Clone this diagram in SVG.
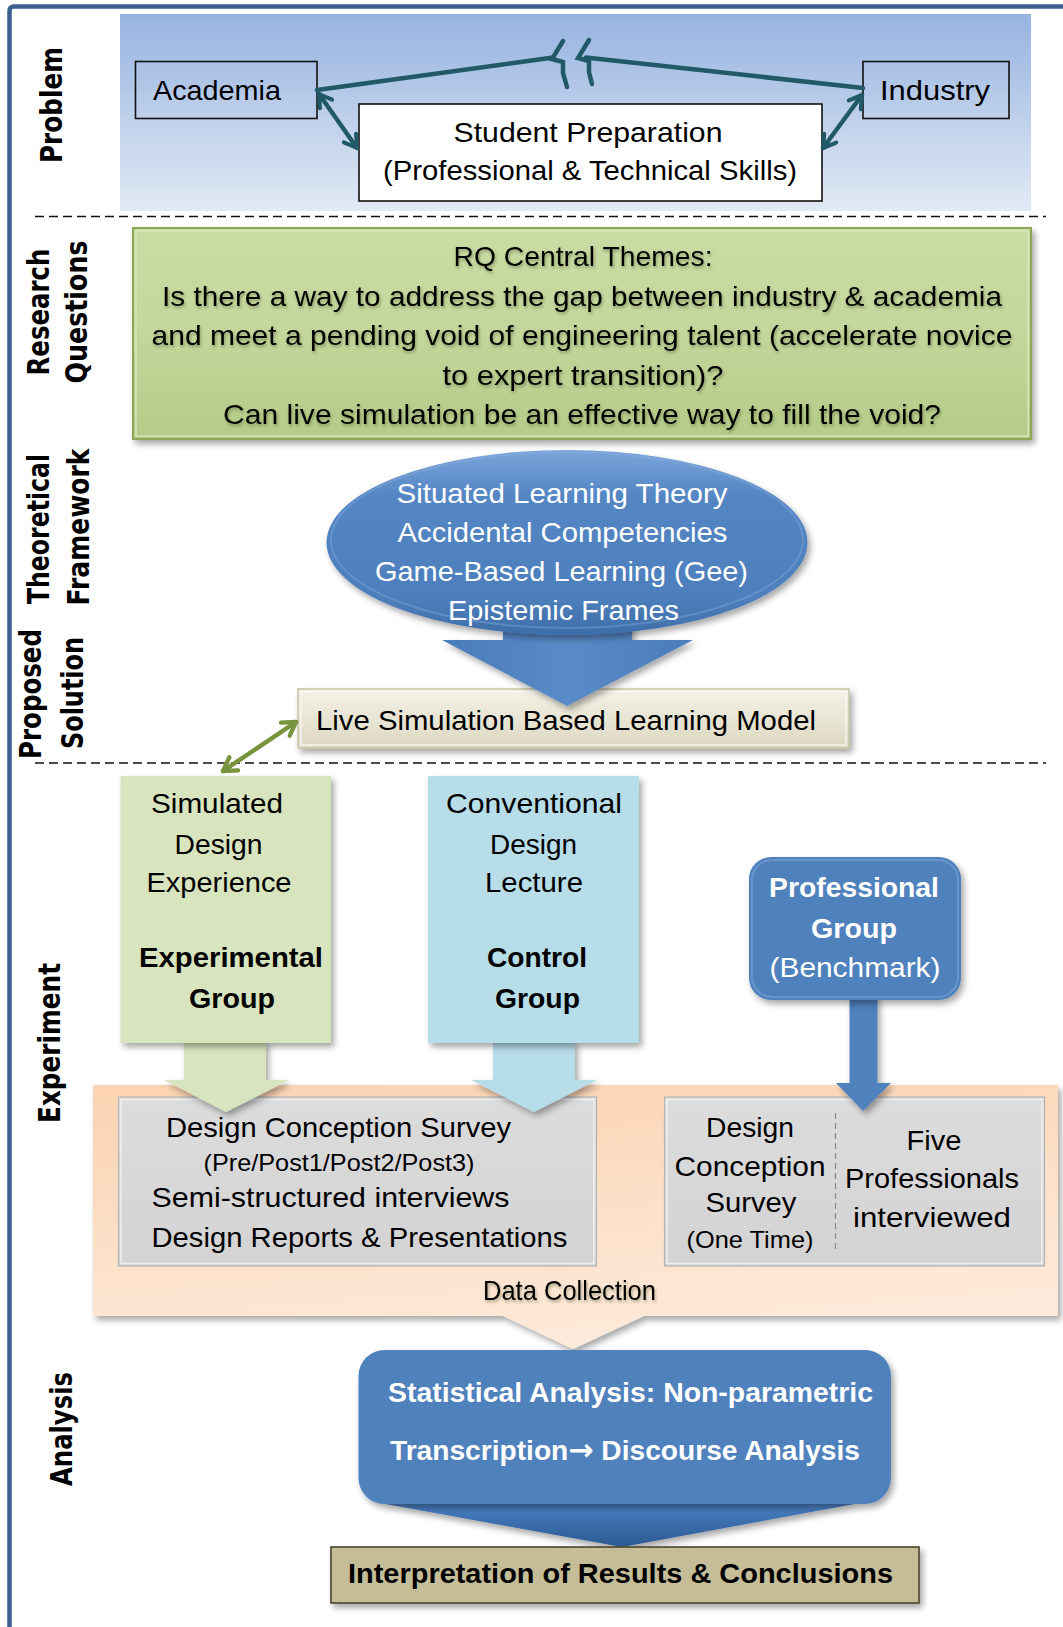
<svg xmlns="http://www.w3.org/2000/svg" width="1063" height="1627" viewBox="0 0 1063 1627">
  <style>
    .lbl { font-family: "DejaVu Sans", "Liberation Sans", sans-serif; font-weight: bold; font-size: 30px; fill: #000; text-anchor: middle; }
    .t { font-family: "Liberation Sans", Arial, sans-serif; text-anchor: middle; fill: #000; font-size: 28px; }
    .tb { font-weight: bold; }
    .w { fill: #fff; }
    .sm { font-size: 24px; }
    .dash { stroke: #111; stroke-width: 1.6; stroke-dasharray: 9 5; fill: none; }
    .teal { stroke: #215968; stroke-width: 4.5; fill: none; stroke-linecap: round; stroke-linejoin: miter; }
  </style>
  <defs>
    <linearGradient id="gProblem" x1="0" y1="0" x2="0" y2="1">
      <stop offset="0" stop-color="#96b3e0"/>
      <stop offset="1" stop-color="#e2eaf5"/>
    </linearGradient>
    <linearGradient id="gRQ" x1="0" y1="0" x2="0" y2="1">
      <stop offset="0" stop-color="#c9dca4"/>
      <stop offset="0.5" stop-color="#c3d69b"/>
      <stop offset="1" stop-color="#b5cb88"/>
    </linearGradient>
    <linearGradient id="gBlueEll" x1="0" y1="0" x2="0" y2="1">
      <stop offset="0" stop-color="#7aa4da"/>
      <stop offset="0.25" stop-color="#5486c4"/>
      <stop offset="0.8" stop-color="#4d7fbc"/>
      <stop offset="1" stop-color="#3f6ea8"/>
    </linearGradient>
    <linearGradient id="gArrowBlue" x1="0" y1="0" x2="1" y2="0">
      <stop offset="0" stop-color="#4a7cba"/>
      <stop offset="0.5" stop-color="#5a8bc8"/>
      <stop offset="1" stop-color="#4a7cba"/>
    </linearGradient>
    <linearGradient id="gLive" x1="0" y1="0" x2="0" y2="1">
      <stop offset="0" stop-color="#f4f2e8"/>
      <stop offset="1" stop-color="#ddd8c1"/>
    </linearGradient>
    <linearGradient id="gPeach" x1="0" y1="0" x2="0.3" y2="1">
      <stop offset="0" stop-color="#fbd3b1"/>
      <stop offset="1" stop-color="#fde9d9"/>
    </linearGradient>
    <linearGradient id="gGrey" x1="0" y1="0" x2="0" y2="1">
      <stop offset="0" stop-color="#dcdcdc"/>
      <stop offset="1" stop-color="#d3d3d3"/>
    </linearGradient>
    <linearGradient id="gChev" x1="0" y1="0" x2="0" y2="1">
      <stop offset="0" stop-color="#4a7fc2"/>
      <stop offset="1" stop-color="#2c5991"/>
    </linearGradient>
    <filter id="sh" x="-10%" y="-10%" width="125%" height="130%">
      <feDropShadow dx="3" dy="4" stdDeviation="3" flood-color="#000" flood-opacity="0.35"/>
    </filter>
    <filter id="tsh" x="-5%" y="-20%" width="110%" height="150%">
      <feDropShadow dx="1" dy="2" stdDeviation="1.5" flood-color="#3a4a20" flood-opacity="0.45"/>
    </filter>
    <marker id="mTeal" viewBox="0 0 14 14" refX="11" refY="7" markerWidth="19" markerHeight="19" markerUnits="userSpaceOnUse" orient="auto-start-reverse">
      <path d="M2,1.5 L11,7 L2,12.5" fill="none" stroke="#215968" stroke-width="3" stroke-linecap="round" stroke-linejoin="round"/>
    </marker>
    <marker id="mGreen" viewBox="0 0 14 14" refX="11" refY="7" markerWidth="20" markerHeight="20" markerUnits="userSpaceOnUse" orient="auto-start-reverse">
      <path d="M2,1.5 L11,7 L2,12.5" fill="none" stroke="#77933c" stroke-width="3" stroke-linecap="round" stroke-linejoin="round"/>
    </marker>
  </defs>

  <rect width="1063" height="1627" fill="#fff"/>
  <!-- page frame -->
  <rect x="9.5" y="6.5" width="1100" height="1700" rx="4" fill="none" stroke="#3b5f8e" stroke-width="4.5"/>

  <!-- row labels -->
  <g id="row-labels">
    <text class="lbl" transform="translate(62,105) rotate(-90)" textLength="116" lengthAdjust="spacingAndGlyphs">Problem</text>
    <text class="lbl" transform="translate(49,312) rotate(-90)" textLength="127" lengthAdjust="spacingAndGlyphs">Research</text>
    <text class="lbl" transform="translate(87,312) rotate(-90)" textLength="143" lengthAdjust="spacingAndGlyphs">Questions</text>
    <text class="lbl" transform="translate(49,529) rotate(-90)" textLength="150" lengthAdjust="spacingAndGlyphs">Theoretical</text>
    <text class="lbl" transform="translate(89,527) rotate(-90)" textLength="157" lengthAdjust="spacingAndGlyphs">Framework</text>
    <text class="lbl" transform="translate(41,694) rotate(-90)" textLength="130" lengthAdjust="spacingAndGlyphs">Proposed</text>
    <text class="lbl" transform="translate(83,693) rotate(-90)" textLength="112" lengthAdjust="spacingAndGlyphs">Solution</text>
    <text class="lbl" transform="translate(60,1043) rotate(-90)" textLength="160" lengthAdjust="spacingAndGlyphs">Experiment</text>
    <text class="lbl" transform="translate(72,1429) rotate(-90)" textLength="114" lengthAdjust="spacingAndGlyphs">Analysis</text>
  </g>

  <!-- section separators -->
  <line class="dash" x1="35" y1="216.5" x2="1046" y2="216.5"/>
  <line class="dash" x1="35" y1="763" x2="1046" y2="763"/>

  <!-- problem band -->
  <rect id="problem-band" x="120" y="14" width="911" height="197" fill="url(#gProblem)"/>

  <g id="academia">
    <rect x="135.5" y="61.5" width="181.5" height="57" fill="none" stroke="#111" stroke-width="1.6"/>
    <text class="t" x="217" y="100" textLength="128" lengthAdjust="spacingAndGlyphs">Academia</text>
  </g>
  <g id="industry">
    <rect x="863" y="61.5" width="146" height="57" fill="none" stroke="#111" stroke-width="1.6"/>
    <text class="t" x="935" y="100" textLength="110" lengthAdjust="spacingAndGlyphs">Industry</text>
  </g>
  <g id="student-preparation">
    <rect x="359" y="104" width="463" height="97" fill="#fff" stroke="#111" stroke-width="1.6"/>
    <text class="t" x="588" y="141.5" textLength="269" lengthAdjust="spacingAndGlyphs">Student Preparation</text>
    <text class="t" x="590" y="180" textLength="414" lengthAdjust="spacingAndGlyphs">(Professional  &amp; Technical Skills)</text>
  </g>

  <!-- research questions -->
  <g id="research-questions">
    <rect x="133" y="228" width="898" height="211" fill="url(#gRQ)" stroke="#8ca857" stroke-width="2" filter="url(#sh)"/>
    <rect x="136" y="231" width="892" height="205" fill="none" stroke="#d7e6bb" stroke-width="1.5"/>
    <g filter="url(#tsh)">
      <text class="t" x="583" y="266" textLength="259" lengthAdjust="spacingAndGlyphs">RQ Central Themes:</text>
      <text class="t" x="582" y="306" textLength="840" lengthAdjust="spacingAndGlyphs">Is there a way to address the gap between industry &amp; academia</text>
      <text class="t" x="582" y="345" textLength="861" lengthAdjust="spacingAndGlyphs">and meet a pending void of engineering talent (accelerate novice</text>
      <text class="t" x="583" y="385" textLength="281" lengthAdjust="spacingAndGlyphs">to expert transition)?</text>
      <text class="t" x="582" y="424" textLength="718" lengthAdjust="spacingAndGlyphs">Can live simulation  be an effective way to fill the void?</text>
    </g>
  </g>

  <!-- proposed solution -->
  <g id="live-simulation-model">
    <rect x="298" y="689" width="551" height="59" fill="url(#gLive)" stroke="#c9c4a6" stroke-width="1.5" filter="url(#sh)"/>
    <rect x="301" y="692" width="545" height="53" fill="none" stroke="#fbfaf4" stroke-width="1.2"/>
    <text class="t" x="566" y="730" textLength="500" lengthAdjust="spacingAndGlyphs">Live Simulation Based Learning Model</text>
  </g>

  <!-- theoretical framework -->
  <g id="framework-arrow">
    <polygon points="503,618 632,618 632,640 693,640 567,706 442,640 503,640" fill="url(#gArrowBlue)" filter="url(#sh)"/>
  </g>
  <g id="theoretical-framework">
    <ellipse cx="567" cy="542.5" rx="240.5" ry="92.5" fill="url(#gBlueEll)" filter="url(#sh)"/>
    <ellipse cx="567" cy="540" rx="236" ry="88" fill="none" stroke="#8fb2e0" stroke-opacity="0.35" stroke-width="2"/>
    <text class="t w" x="562" y="503" font-size="29.5" textLength="331" lengthAdjust="spacingAndGlyphs">Situated Learning Theory</text>
    <text class="t w" x="562.5" y="542" font-size="29.5" textLength="330" lengthAdjust="spacingAndGlyphs">Accidental Competencies</text>
    <text class="t w" x="561.5" y="580.5" font-size="29.5" textLength="373" lengthAdjust="spacingAndGlyphs">Game-Based Learning  (Gee)</text>
    <text class="t w" x="563.5" y="620" font-size="29.5" textLength="231" lengthAdjust="spacingAndGlyphs">Epistemic Frames</text>
  </g>

  <!-- data collection -->
  <g id="data-collection">
    <path d="M93,1085 H1058 V1316 H644 L573,1349 L503,1316 H93 Z" fill="url(#gPeach)" filter="url(#sh)"/>
    <text class="t" x="569.5" y="1300" font-size="24" textLength="173" lengthAdjust="spacingAndGlyphs" filter="url(#tsh)">Data Collection</text>
  </g>
  <g id="student-measures">
    <rect x="118.5" y="1097" width="478" height="169" fill="url(#gGrey)" stroke="#b5b5b5" stroke-width="1.2"/>
    <rect x="121" y="1099.5" width="473" height="164" fill="none" stroke="#f0f0f0" stroke-width="1.5"/>
    <text class="t" x="338.5" y="1136.5" textLength="345" lengthAdjust="spacingAndGlyphs">Design Conception Survey</text>
    <text class="t sm" x="339" y="1170.5" textLength="271" lengthAdjust="spacingAndGlyphs">(Pre/Post1/Post2/Post3)</text>
    <text class="t" x="151.5" y="1206.5" style="text-anchor:start" textLength="358" lengthAdjust="spacingAndGlyphs">Semi-structured interviews</text>
    <text class="t" x="151.5" y="1246.5" style="text-anchor:start" textLength="416" lengthAdjust="spacingAndGlyphs">Design Reports &amp; Presentations</text>
  </g>
  <g id="professional-measures">
    <rect x="664.5" y="1097" width="380" height="169" fill="url(#gGrey)" stroke="#b5b5b5" stroke-width="1.2"/>
    <rect x="667" y="1099.5" width="375" height="164" fill="none" stroke="#f0f0f0" stroke-width="1.5"/>
    <line x1="835.5" y1="1113" x2="835.5" y2="1253" stroke="#8a8a8a" stroke-width="1.2" stroke-dasharray="6 4"/>
    <text class="t" x="750" y="1136.5" textLength="88" lengthAdjust="spacingAndGlyphs">Design</text>
    <text class="t" x="750" y="1176" textLength="151" lengthAdjust="spacingAndGlyphs">Conception</text>
    <text class="t" x="751" y="1212" textLength="91" lengthAdjust="spacingAndGlyphs">Survey</text>
    <text class="t sm" x="750" y="1248" textLength="127" lengthAdjust="spacingAndGlyphs">(One Time)</text>
    <text class="t" x="934" y="1150" textLength="55" lengthAdjust="spacingAndGlyphs">Five</text>
    <text class="t" x="932" y="1188" textLength="174" lengthAdjust="spacingAndGlyphs">Professionals</text>
    <text class="t" x="932" y="1227" textLength="158" lengthAdjust="spacingAndGlyphs">interviewed</text>
  </g>

  <!-- experiment groups -->
  <g id="experimental-group">
    <polygon points="184,1040 266,1040 266,1080 289,1080 226,1112 164,1080 184,1080" fill="#d7e4bd" filter="url(#sh)"/>
    <rect x="120.5" y="776" width="210.5" height="267" fill="#d7e4bd" filter="url(#sh)"/>
    <text class="t" x="217" y="813" textLength="132" lengthAdjust="spacingAndGlyphs">Simulated</text>
    <text class="t" x="218.5" y="854" textLength="88" lengthAdjust="spacingAndGlyphs">Design</text>
    <text class="t" x="219" y="892" textLength="145" lengthAdjust="spacingAndGlyphs">Experience</text>
    <text class="t tb" x="231" y="967" textLength="184" lengthAdjust="spacingAndGlyphs">Experimental</text>
    <text class="t tb" x="232" y="1008" textLength="86" lengthAdjust="spacingAndGlyphs">Group</text>
  </g>
  <g id="control-group">
    <polygon points="493,1040 575,1040 575,1080 597,1080 534,1112 471,1080 493,1080" fill="#b7dde8" filter="url(#sh)"/>
    <rect x="428" y="776" width="211" height="267" fill="#b7dde8" filter="url(#sh)"/>
    <text class="t" x="534" y="813" textLength="176" lengthAdjust="spacingAndGlyphs">Conventional</text>
    <text class="t" x="533.5" y="854" textLength="87" lengthAdjust="spacingAndGlyphs">Design</text>
    <text class="t" x="534" y="892" textLength="98" lengthAdjust="spacingAndGlyphs">Lecture</text>
    <text class="t tb" x="537" y="967" textLength="100" lengthAdjust="spacingAndGlyphs">Control</text>
    <text class="t tb" x="537.5" y="1008" textLength="85" lengthAdjust="spacingAndGlyphs">Group</text>
  </g>
  <g id="professional-group">
    <polygon points="849.5,995 877.5,995 877.5,1083 891,1083 863,1111 836,1083 849.5,1083" fill="#4f81bd" filter="url(#sh)"/>
    <rect x="749" y="857" width="212" height="143" rx="22" fill="#4f81bd" filter="url(#sh)"/>
    <rect x="752" y="860" width="206" height="137" rx="20" fill="none" stroke="#7ba3d6" stroke-opacity="0.6" stroke-width="2"/>
    <text class="t w tb" x="854" y="897" textLength="170" lengthAdjust="spacingAndGlyphs">Professional</text>
    <text class="t w tb" x="854" y="938" textLength="86" lengthAdjust="spacingAndGlyphs">Group</text>
    <text class="t w" x="855" y="977" textLength="171" lengthAdjust="spacingAndGlyphs">(Benchmark)</text>
  </g>

  <!-- analysis -->
  <g id="analysis">
    <path d="M380,1503 L860,1503 L622,1547 Z" fill="url(#gChev)" filter="url(#sh)"/>
    <rect x="358.5" y="1350" width="532.5" height="154" rx="26" fill="#4f81bd" filter="url(#sh)"/>
    <text class="t w tb" x="630.5" y="1402" textLength="485" lengthAdjust="spacingAndGlyphs">Statistical Analysis: Non-parametric</text>
    <text class="t w tb" x="625" y="1460" textLength="470" lengthAdjust="spacingAndGlyphs">Transcription<tspan font-family="DejaVu Sans, sans-serif" font-size="30">→</tspan> Discourse Analysis</text>
  </g>
  <g id="interpretation">
    <rect x="331" y="1547" width="588" height="56" fill="#c4bd97" stroke="#4a452a" stroke-width="1.6" filter="url(#sh)"/>
    <text class="t tb" x="620.5" y="1583" textLength="545" lengthAdjust="spacingAndGlyphs">Interpretation of Results  &amp;  Conclusions</text>
  </g>

  <!-- connectors: broken link between academia and industry, plus two-way links -->
  <g id="connectors">
    <polyline class="teal" points="317,90 553,57.5"/>
    <polyline class="teal" stroke-width="4" points="563,41 552,59 563,62 563,73 567,87"/>
    <polyline class="teal" stroke-width="4" points="589,40 578,58 589,61 589,72 592,84"/>
    <polyline class="teal" points="586,57.5 863,88"/>
    <line class="teal" stroke-width="4" x1="319" y1="94" x2="357" y2="148" marker-start="url(#mTeal)" marker-end="url(#mTeal)"/>
    <line class="teal" stroke-width="4" x1="862" y1="95" x2="823" y2="148" marker-start="url(#mTeal)" marker-end="url(#mTeal)"/>
    <line x1="296" y1="722" x2="223" y2="771" stroke="#77933c" stroke-width="4.5" stroke-linecap="round" marker-start="url(#mGreen)" marker-end="url(#mGreen)"/>
  </g>
</svg>
